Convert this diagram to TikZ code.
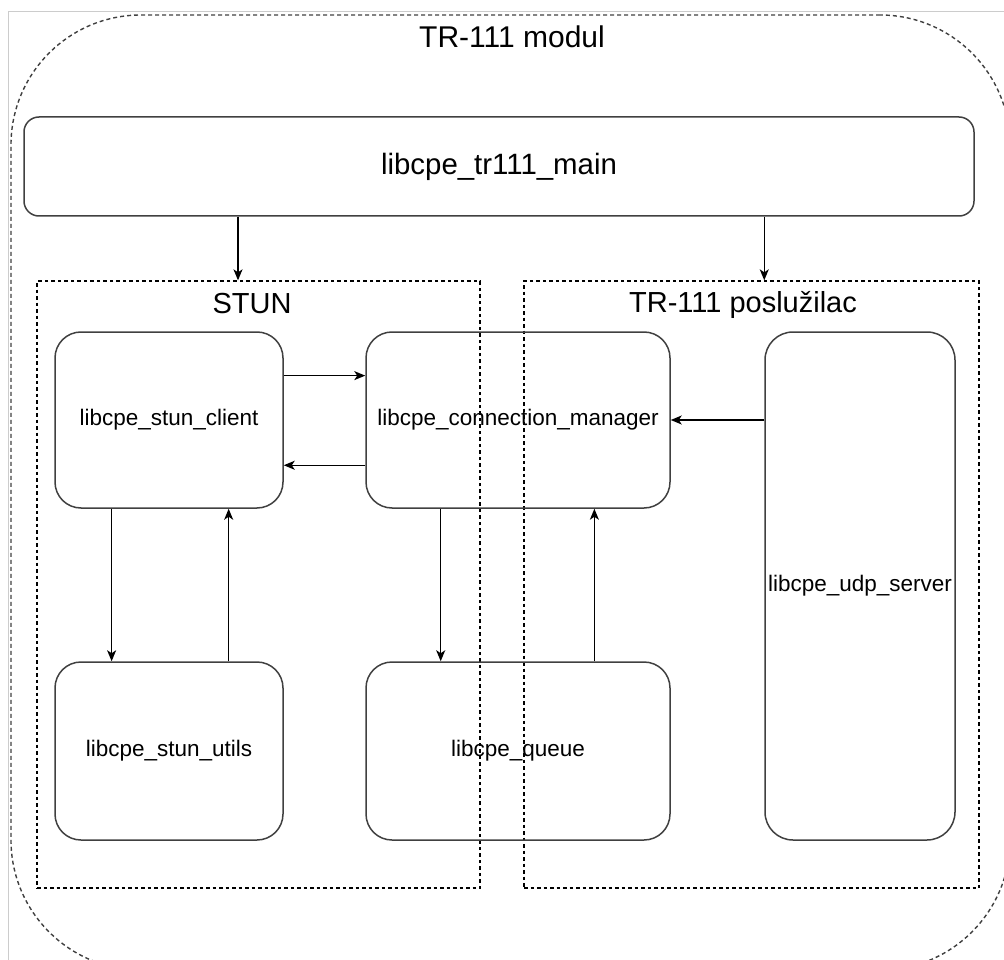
\documentclass[tikz,border=0pt]{standalone}
\usepackage{fontspec}
\setmainfont{Liberation Sans}
\usetikzlibrary{arrows.meta,calc}

\begin{document}
\begin{tikzpicture}[x=1pt,y=-1pt,
  modbox/.style={draw=black!75, line width=1.5pt, rounded corners=26pt,
    inner sep=0pt, align=center, font=\fontsize{22.5pt}{27pt}\selectfont},
  groupbox/.style={draw=black, line width=1.3pt, dash pattern=on 3.5pt off 3pt,
    inner sep=0pt},
  grouplabel/.style={anchor=base, inner sep=0pt, font=\fontsize{29pt}{34pt}\selectfont},
  link/.style={draw=black, line width=1.4pt,
    -{Stealth[length=11pt,width=9pt,inset=3pt]}}
]
\useasboundingbox (0,0) rectangle (1004,960);
\clip (0,0) rectangle (1004,960);

% frame
\draw[black!20, line width=1pt] (8,1000) -- (8,12) -- (1040,12);

% outer module outline
\node[draw=black!75, line width=1.4pt, dash pattern=on 4pt off 3pt,
      rounded corners=130pt, minimum width=999pt, minimum height=955pt, inner sep=0pt]
      (outer) at (510.5,492.5) {};
\node[anchor=base, inner sep=0pt, font=\fontsize{30pt}{36pt}\selectfont]
      (title) at (512,48) {TR-111 modul};

% main library
\node[modbox, rounded corners=15pt, minimum width=950pt, minimum height=99pt,
      font=\fontsize{29.4pt}{35pt}\selectfont] (main) at (499,166.5) {libcpe\_tr111\_main};

% groups
\node[groupbox, minimum width=443pt, minimum height=607pt] (stun) at (258.5,584.5) {};
\node[groupbox, minimum width=455pt, minimum height=607pt] (srv) at (751.5,584.5) {};
\node[grouplabel] (stunlbl) at (252,313) {STUN};
\node[grouplabel] (srvlbl) at (743,312) {TR-111 poslužilac};

% libraries
\node[modbox, minimum width=228pt, minimum height=176pt] (sc) at (169,420) {libcpe\_stun\_client};
\node[modbox, minimum width=304pt, minimum height=176pt] (cm) at (518,420) {libcpe\_connection\_manager};
\node[modbox, minimum width=228pt, minimum height=178pt] (su) at (169,751) {libcpe\_stun\_utils};
\node[modbox, minimum width=304pt, minimum height=178pt] (q) at (518,751) {libcpe\_queue};
\node[modbox, rounded corners=28pt, minimum width=190pt, minimum height=508pt] (udp) at (860,586) {libcpe\_udp\_server};

% connectors
\draw[link] ([xshift=-20.5pt]stun.north |- main.south) -- ([xshift=-20.5pt]stun.north);
\draw[link] (udp.west |- main.south) -- (udp.west |- srv.north);

\draw[link] ($(sc.north east)!0.25!(sc.south east)$) -- ($(cm.north west)!0.25!(cm.south west)$);
\draw[link] ($(cm.north west)!0.755!(cm.south west)$) -- ($(sc.north east)!0.755!(sc.south east)$);
\draw[link] (udp.west |- cm.east) -- (cm.east);

\draw[link] ($(sc.south west)!0.25!(sc.south east)$) -- ($(su.north west)!0.25!(su.north east)$);
\draw[link] ($(su.north west)!0.76!(su.north east)$) -- ($(sc.south west)!0.76!(sc.south east)$);
\draw[link] ($(cm.south west)!0.247!(cm.south east)$) -- ($(q.north west)!0.247!(q.north east)$);
\draw[link] ($(q.north west)!0.75!(q.north east)$) -- ($(cm.south west)!0.75!(cm.south east)$);
\end{tikzpicture}
\end{document}
